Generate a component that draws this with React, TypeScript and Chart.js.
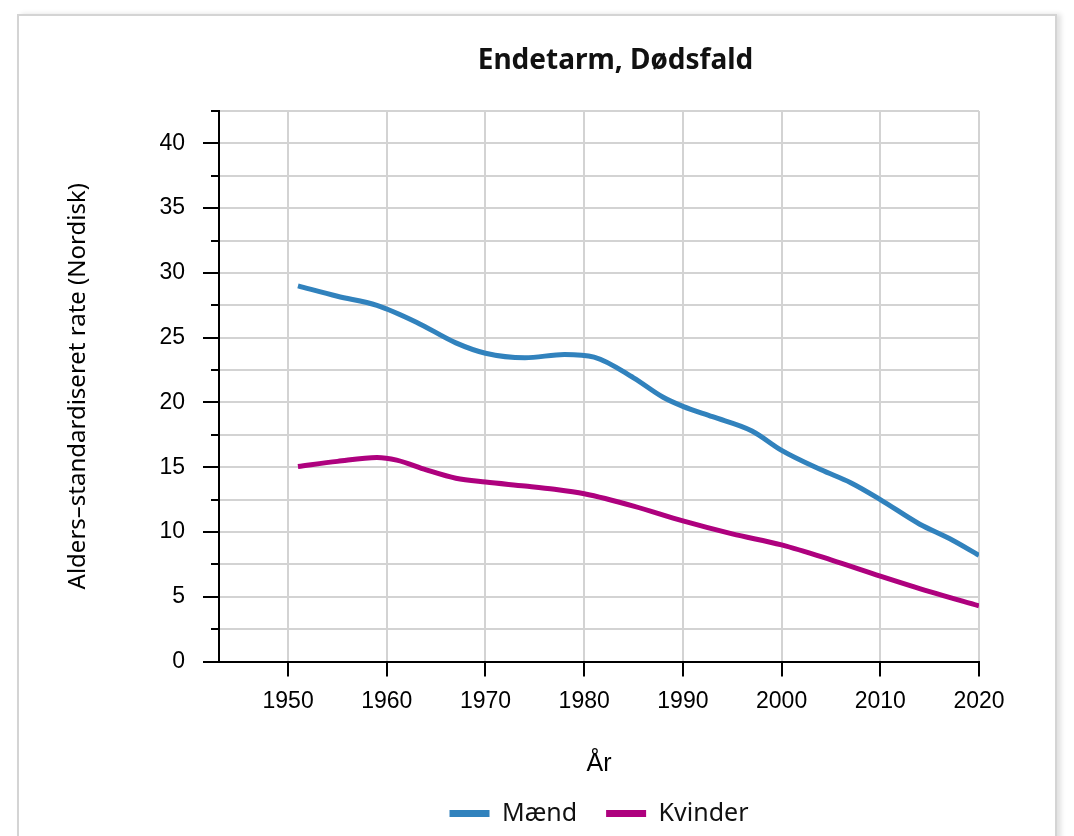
import React, { useEffect, useRef } from "react";
import { Chart, registerables } from "chart.js";

Chart.register(...registerables);

const chartTitle = "Endetarm, Dødsfald";
const yAxisTitle = "Alders–standardiseret rate (Nordisk)";
const xAxisTitle = "År";

const seriesNames = ["Mænd", "Kvinder"];

const maendYears = [1951, 1955, 1959, 1963, 1967, 1970, 1974, 1978, 1981, 1985, 1988, 1990, 1993, 1997, 2000, 2004, 2007, 2010, 2014, 2017, 2020];
const maendValues = [29.0, 28.2, 27.5, 26.2, 24.6, 23.8, 23.45, 23.7, 23.5, 21.9, 20.4, 19.7, 18.9, 17.8, 16.3, 14.8, 13.8, 12.5, 10.6, 9.5, 8.2];

const kvinderYears = [1951, 1955, 1959, 1961, 1964, 1967, 1970, 1974, 1977, 1980, 1985, 1990, 1995, 2000, 2005, 2010, 2015, 2020];
const kvinderValues = [15.05, 15.45, 15.75, 15.55, 14.8, 14.15, 13.85, 13.55, 13.3, 12.95, 12.0, 10.85, 9.85, 9.0, 7.85, 6.6, 5.4, 4.3];

const xTickValues = [1950, 1960, 1970, 1980, 1990, 2000, 2010, 2020];
const yTickValues = [0, 2.5, 5, 7.5, 10, 12.5, 15, 17.5, 20, 22.5, 25, 27.5, 30, 32.5, 35, 37.5, 40, 42.5];

const X_MIN = 1943;
const X_MAX = 2020;
const Y_MIN = 0;
const Y_MAX = 42.5;

const colors = ["#3182bd", "#ae017e"];

const axisTicksPlugin = {
  id: "axisTicks",
  afterDraw(chart: any) {
    const { ctx, chartArea } = chart;
    const x = chart.scales.x;
    const y = chart.scales.y;
    ctx.save();
    ctx.strokeStyle = "#000";
    ctx.lineWidth = 2;
    ctx.beginPath();
    y.ticks.forEach((t: any) => {
      const py = Math.round(y.getPixelForValue(t.value));
      const len = t.value % 5 === 0 ? 16 : 8;
      ctx.moveTo(chartArea.left - len, py);
      ctx.lineTo(chartArea.left, py);
    });
    x.ticks.forEach((t: any) => {
      const px = Math.round(x.getPixelForValue(t.value));
      ctx.moveTo(px, chartArea.bottom);
      ctx.lineTo(px, chartArea.bottom + 15);
    });
    ctx.stroke();
    ctx.restore();
  },
};

const titleShiftPlugin = {
  id: "titleShift",
  afterLayout(chart: any) {
    const t = chart.titleBlock;
    if (t) {
      const dx = 126;
      t.left += dx;
      t.right += dx;
    }
  },
};

export default function App() {
  const canvasRef = useRef<HTMLCanvasElement | null>(null);

  useEffect(() => {
    if (!canvasRef.current) return;
    const chart = new Chart(canvasRef.current, {
      type: "line",
      data: {
        datasets: [
          {
            label: seriesNames[0],
            data: maendYears.map((yr, i) => ({ x: yr, y: maendValues[i] })),
            borderColor: colors[0],
            backgroundColor: colors[0],
            borderWidth: 5,
            pointRadius: 0,
            cubicInterpolationMode: "monotone",
          },
          {
            label: seriesNames[1],
            data: kvinderYears.map((yr, i) => ({ x: yr, y: kvinderValues[i] })),
            borderColor: colors[1],
            backgroundColor: colors[1],
            borderWidth: 5,
            pointRadius: 0,
            cubicInterpolationMode: "monotone",
          },
        ],
      },
      options: {
        responsive: false,
        animation: false,
        devicePixelRatio: 1,
        layout: { padding: { left: 0, right: 95, top: 0, bottom: 0 } },
        plugins: {
          tooltip: { enabled: false },
          title: {
            display: true,
            text: chartTitle,
            color: "#111",
            font: { family: '"Noto Sans"', size: 28, weight: "bold", lineHeight: 1.2 },
            padding: { top: 44, bottom: 33.4 },
          },
          legend: {
            position: "bottom",
            fullSize: false,
            labels: {
              boxWidth: 40,
              boxHeight: 7,
              padding: 29,
              color: "#111",
              font: { family: '"Noto Sans"', size: 25 },
              generateLabels: (c: any) =>
                Chart.defaults.plugins.legend.labels
                  .generateLabels(c)
                  .map((l: any) => ({ ...l, lineWidth: 0, fillStyle: l.strokeStyle })),
            },
          },
        },
        scales: {
          x: {
            type: "linear",
            min: X_MIN,
            max: X_MAX,
            afterBuildTicks: (scale: any) => {
              scale.ticks = xTickValues.map((v) => ({ value: v }));
            },
            afterFit: (scale: any) => {
              scale.height = 110.5;
            },
            ticks: {
              padding: 26,
              color: "#000",
              maxRotation: 0,
              autoSkip: false,
              font: { family: '"Liberation Sans", Arial, sans-serif', size: 23 },
              callback: (v: any) => String(v),
            },
            grid: { color: "#d3d3d3", lineWidth: 2, drawTicks: false },
            border: { display: true, color: "#000", width: 2 },
            title: {
              display: true,
              text: xAxisTitle,
              color: "#000",
              font: { family: '"Liberation Sans", Arial, sans-serif', size: 25 },
              padding: { top: 0, bottom: -7 },
            },
          },
          y: {
            type: "linear",
            min: Y_MIN,
            max: Y_MAX,
            afterBuildTicks: (scale: any) => {
              scale.ticks = yTickValues.map((v) => ({ value: v }));
            },
            afterFit: (scale: any) => {
              scale.width = 219;
            },
            ticks: {
              padding: 34,
              color: "#000",
              autoSkip: false,
              font: { family: '"Liberation Sans", Arial, sans-serif', size: 23 },
              callback: (v: any) => (Number(v) % 5 === 0 ? String(v) : ""),
            },
            grid: { color: "#d3d3d3", lineWidth: 2, drawTicks: false },
            border: { display: true, color: "#000", width: 2 },
            title: {
              display: true,
              text: yAxisTitle,
              color: "#000",
              font: { family: '"Noto Sans"', size: 24 },
              padding: { top: 64, bottom: 0 },
            },
          },
        },
      },
      plugins: [axisTicksPlugin, titleShiftPlugin],
    } as any);
    return () => chart.destroy();
  }, []);

  return (
    <div
      style={{
        position: "absolute",
        left: 0,
        top: 0,
        width: 1074,
        height: 836,
        overflow: "hidden",
        background: "#fff",
      }}
    >
      <div
        style={{
          position: "absolute",
          left: 17,
          top: 14,
          width: 1040,
          height: 900,
          boxSizing: "border-box",
          border: "2px solid #d4d4d4",
          boxShadow: "4px 0 5px rgba(0,0,0,0.12)",
          background: "#fff",
        }}
      />
      <canvas
        ref={canvasRef}
        width={1074}
        height={836}
        style={{ position: "absolute", left: 0, top: 0 }}
      />
    </div>
  );
}
